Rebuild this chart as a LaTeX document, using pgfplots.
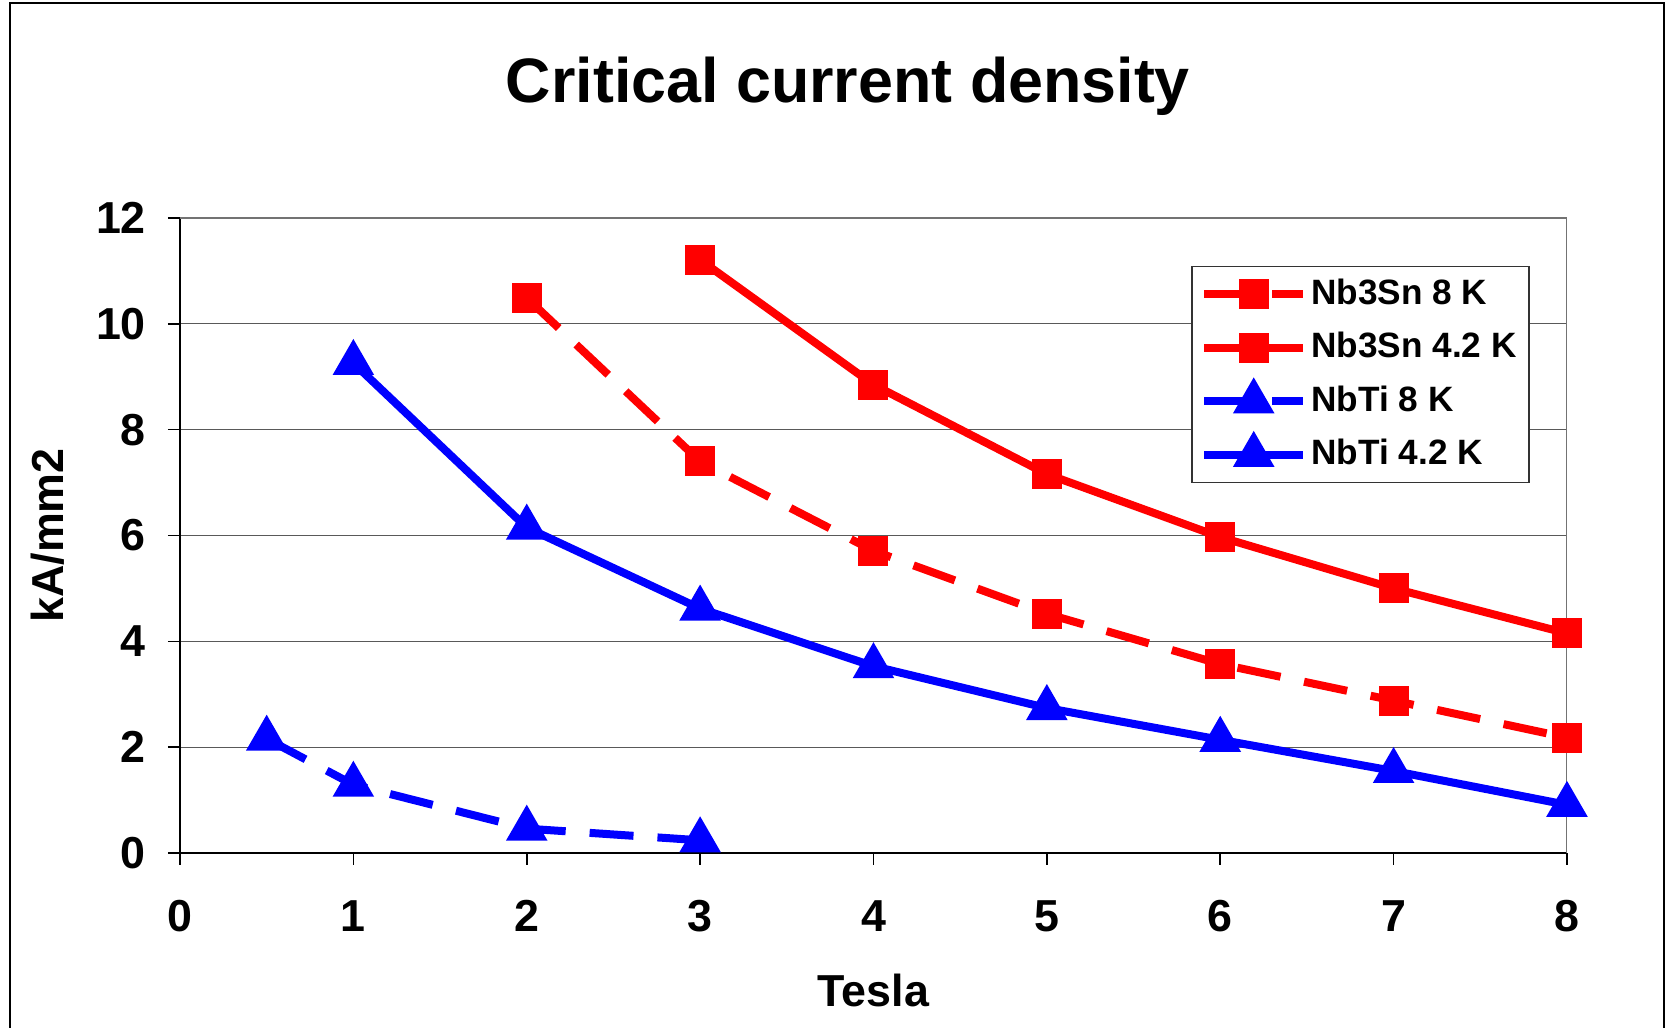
\documentclass[border=0pt]{standalone}
\usepackage{pgfplots}
\pgfplotsset{compat=1.18}
\usepackage{fontspec}
\setmainfont{Liberation Sans}
\definecolor{exred}{RGB}{255,0,0}
\definecolor{exblue}{RGB}{0,0,255}
\begin{document}
\begin{tikzpicture}
\useasboundingbox (0,0) rectangle (418.25pt,257pt);
\draw[line width=0.4pt] (2.5pt,-20pt) rectangle (416pt,256.3pt);
\begin{axis}[
  at={(45pt,43.75pt)}, anchor=south west,
  scale only axis, width=346.75pt, height=158.75pt,
  xmin=0, xmax=8, ymin=0, ymax=12,
  xtick={0,1,...,8}, ytick={0,2,...,12},
  axis x line*=bottom, axis y line*=left,
  axis line style={black, line width=0.4pt, -},
  tick align=outside, major tick length=3pt,
  tick style={black, line width=0.4pt},
  ymajorgrids, grid style={black!65, line width=0.3pt},
  /pgf/number format/assume math mode=true,
  tick label style={font=\bfseries\fontsize{11.2}{13}\selectfont},
  xticklabel style={yshift=-5.3pt},
  yticklabel style={xshift=-2pt},
  title={Critical current density},
  title style={at={(axis description cs:0.4816,1.17)}, anchor=center, font=\bfseries\fontsize{15.7}{18}\selectfont},
  xlabel={Tesla},
  xlabel style={at={(axis description cs:0.5,-0.216)}, anchor=center, font=\bfseries\fontsize{11.2}{13}\selectfont},
  ylabel={kA/mm2},
  ylabel style={at={(axis description cs:-0.0952,0.5)}, anchor=center, rotate=0, font=\bfseries\fontsize{11.2}{13}\selectfont},
  legend cell align=left,
  legend style={at={(0.973,0.9247)}, anchor=north east, draw=black!80, line width=0.4pt,
    font=\bfseries\fontsize{8.8}{10.5}\selectfont, row sep=1.5pt, inner xsep=2pt, inner ysep=1pt,
    nodes={inner xsep=1pt}},
  legend image code/.code={%
    \draw[#1] (0pt,0pt) -- (24.8pt,0pt);
    \draw[#1, mark repeat=2, mark phase=2] plot coordinates {(0pt,0pt) (12.4pt,0pt) (24.8pt,0pt)};},
]
\addplot[exred, line width=2pt, dash pattern=on 11pt off 6pt, mark=square*, mark size=2.75pt, mark options={solid}]
  coordinates {(2,10.49) (3,7.40) (4,5.71) (5,4.52) (6,3.57) (7,2.88) (8,2.18)};
\addlegendentry{Nb3Sn 8 K}
\addplot[exred, line width=2pt, mark=square*, mark size=2.75pt]
  coordinates {(3,11.21) (4,8.85) (5,7.16) (6,5.97) (7,5.00) (8,4.15)};
\addlegendentry{Nb3Sn 4.2 K}
\addplot[exblue, line width=2pt, dash pattern=on 11pt off 6pt, mark=triangle*, mark size=4pt, mark options={solid}]
  coordinates {(0.5,2.16) (1,1.29) (2,0.46) (3,0.24)};
\addlegendentry{NbTi 8 K}
\addplot[exblue, line width=2pt, mark=triangle*, mark size=4pt]
  coordinates {(1,9.26) (2,6.15) (3,4.62) (4,3.53) (5,2.74) (6,2.14) (7,1.55) (8,0.91)};
\addlegendentry{NbTi 4.2 K}
\draw[black!55, line width=0.4pt] (rel axis cs:0,1) -- (rel axis cs:1,1) -- (rel axis cs:1,0);
\draw[black!55, line width=0.4pt] (rel axis cs:1,0) -- ++(0,-3pt);
\end{axis}
\end{tikzpicture}
\end{document}
